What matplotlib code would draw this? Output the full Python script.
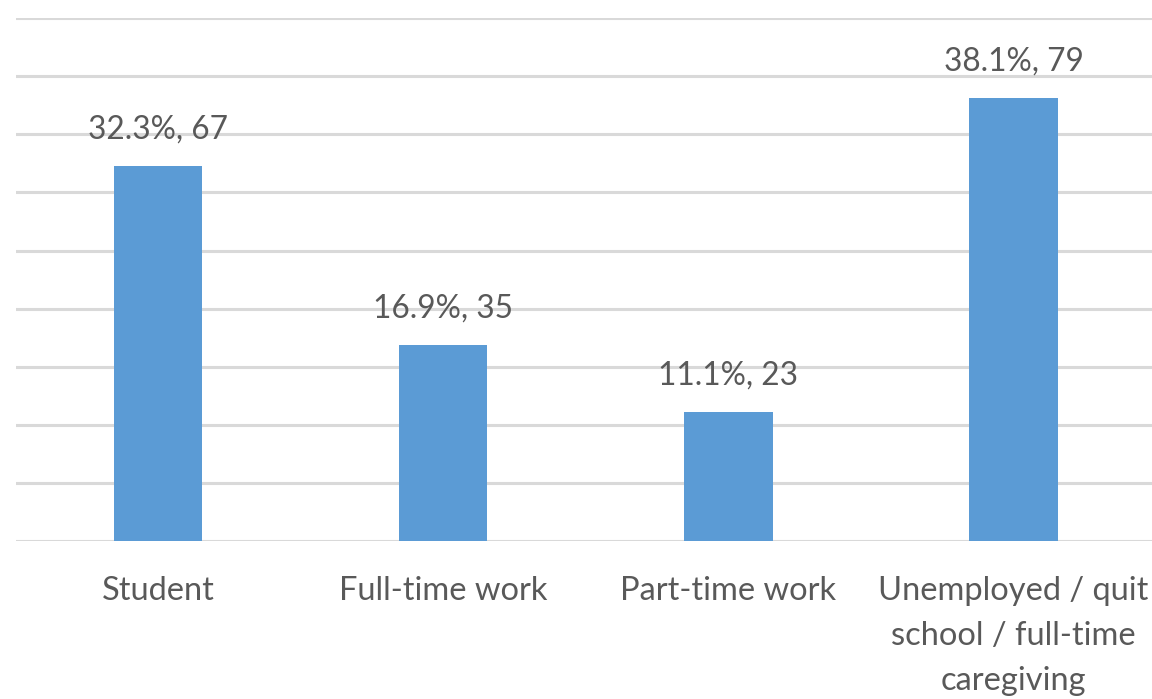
import numpy as np
import matplotlib.pyplot as plt

categories = ['Student', 'Full-time work', 'Part-time work',
              'Unemployed / quit\nschool / full-time\ncaregiving']
percents = [32.3, 16.9, 11.1, 38.1]
counts = [67, 35, 23, 79]

plt.rcParams['font.family'] = ['Lato', 'DejaVu Sans']
text_col = '#595959'
grid_col = '#d9d9d9'

fig = plt.figure(figsize=(11.52, 6.99), dpi=100)
ax = fig.add_axes([0.0135, 0.226, 0.99, 0.748])

x = np.arange(len(categories))
bars = ax.bar(x, percents, width=0.31, color='#5b9bd5', zorder=3)

# value labels: percent and respondent count
for b, p, n in zip(bars, percents, counts):
    ax.annotate(f'{p}%, {n}', (b.get_x() + b.get_width() / 2, p),
                xytext=(0, 15.5), textcoords='offset points',
                ha='center', va='bottom', fontsize=22.8, color=text_col)

ax.set_xlim(-0.5, len(categories) - 0.5)
ax.set_ylim(0, 45)
ax.set_yticks(np.arange(0, 46, 5))
ax.yaxis.grid(True, color=grid_col, linewidth=2.2, zorder=0)
ax.tick_params(axis='y', left=False, labelleft=False)
ax.tick_params(axis='x', length=0, pad=25)
ax.set_xticks(x)
ax.set_xticklabels(categories, fontsize=23.5, color=text_col, linespacing=1.62)
for s in ax.spines.values():
    s.set_visible(False)

fig.savefig('out.png', dpi=100, facecolor='white')
